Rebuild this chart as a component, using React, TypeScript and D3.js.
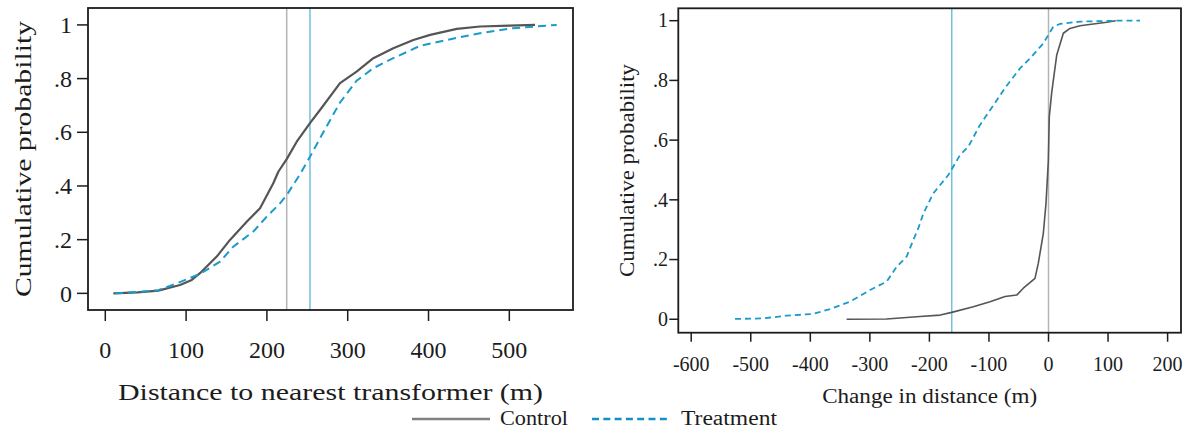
import React from "react";
import * as d3 from "d3";

// Panel A: distance to nearest transformer (m), empirical CDFs
const distControlX = [10, 40, 65.6, 92.5, 107, 117.2, 137.9, 154.3, 175, 191.5, 207.9, 214.1, 224.5, 236.9, 253.3, 265.7, 290.5, 311, 331.7, 356.4, 381.2, 402, 435, 463.7, 500, 531.8];
const distControlY = [0, 0.004, 0.01, 0.031, 0.05, 0.075, 0.137, 0.199, 0.267, 0.317, 0.41, 0.453, 0.5, 0.565, 0.634, 0.683, 0.783, 0.826, 0.876, 0.913, 0.944, 0.963, 0.985, 0.994, 0.997, 1.0];
const distTreatX = [12, 40, 65.6, 88.4, 117, 142, 158.4, 183.2, 199.8, 216.2, 224.5, 241, 253.3, 269.8, 290.5, 311, 331.7, 356.4, 389.5, 422.5, 463.7, 505, 558.6];
const distTreatY = [0, 0.005, 0.012, 0.037, 0.072, 0.118, 0.174, 0.23, 0.286, 0.335, 0.366, 0.444, 0.509, 0.6, 0.711, 0.792, 0.839, 0.876, 0.922, 0.944, 0.969, 0.988, 1.0];
const distMeans = { control: 224.5, treatment: 253.3 };
const distTicksX = [0, 100, 200, 300, 400, 500];

// Panel B: change in distance (m), empirical CDFs
const chgControlX = [-339, -272, -215.8, -182, -162.5, -126.3, -98.2, -73, -53.4, -42.3, -22.7, -17.1, -8.7, -4.2, -0.3, 1.3, 5.4, 13.8, 24.9, 36, 52.9, 97.7, 113];
const chgControlY = [0, 0.001, 0.009, 0.014, 0.023, 0.042, 0.059, 0.076, 0.081, 0.104, 0.137, 0.188, 0.288, 0.388, 0.53, 0.678, 0.76, 0.885, 0.958, 0.974, 0.983, 0.995, 1.0];
const chgTreatX = [-526.4, -479, -439.6, -394.9, -367, -333.4, -299.8, -271.8, -255, -238.2, -227, -218.6, -210, -193.4, -168.3, -148.6, -134.7, -115, -92.7, -73, -47.9, -31, -8.7, 8, 19.3, 52.9, 114.5, 153.6];
const chgTreatY = [0.001, 0.003, 0.012, 0.018, 0.034, 0.059, 0.098, 0.126, 0.176, 0.21, 0.266, 0.305, 0.355, 0.422, 0.483, 0.55, 0.578, 0.651, 0.716, 0.775, 0.84, 0.874, 0.924, 0.98, 0.989, 0.997, 1.0, 1.0];
const chgMeans = { control: 0, treatment: -162.5 };
const chgTicksX = [-600, -500, -400, -300, -200, -100, 0, 100, 200];

const probTicks = [0, 0.2, 0.4, 0.6, 0.8, 1];
const probLabel = (v: number) => (v === 0 ? "0" : v === 1 ? "1" : String(v).replace(/^0/, ""));

const CONTROL = "#555555";
const TREAT = "#1a9bc9";
const FONT = '"Liberation Serif", "DejaVu Serif", "Times New Roman", serif';
const INK = "#1c1c1c";
const textStyle = { fontFamily: FONT };

type PanelProps = {
  frame: { x0: number; x1: number; y0: number; y1: number };
  xDomain: [number, number];
  yDomain: [number, number];
  xTicks: number[];
  ctrl: [number[], number[]];
  trt: [number[], number[]];
  means: { control: number; treatment: number };
  tickFont: number;
  tickLen: number;
  xLabelBase: number;
  yLabelRight: number;
  xTitle: string;
  xTitleY: number;
  xTitleLen: number;
  xTitleFont: number;
  yTitleX: number;
  yTitleLen: number;
  yTitleFont: number;
  lineW: [number, number];
  dash: string;
};

function Panel(p: PanelProps) {
  const { frame } = p;
  const x = d3.scaleLinear().domain(p.xDomain).range([frame.x0, frame.x1]);
  const y = d3.scaleLinear().domain(p.yDomain).range([frame.y1, frame.y0]);
  const line = d3
    .line<[number, number]>()
    .x((d) => x(d[0]))
    .y((d) => y(d[1]))
    .curve(d3.curveLinear);
  const pts = (xs: number[], ys: number[]) => xs.map((v, i) => [v, ys[i]] as [number, number]);
  const yMid = (frame.y0 + frame.y1) / 2;
  return (
    <g>
      <line x1={x(p.means.control)} x2={x(p.means.control)} y1={frame.y0} y2={frame.y1} stroke="#b4b4b4" strokeWidth={1.5} />
      <line x1={x(p.means.treatment)} x2={x(p.means.treatment)} y1={frame.y0} y2={frame.y1} stroke="#72c0dd" strokeWidth={1.5} />
      <path d={line(pts(p.ctrl[0], p.ctrl[1])) || ""} fill="none" stroke={CONTROL} strokeWidth={p.lineW[0]} strokeLinejoin="round" />
      <path d={line(pts(p.trt[0], p.trt[1])) || ""} fill="none" stroke={TREAT} strokeWidth={p.lineW[1]} strokeDasharray={p.dash} />
      <rect x={frame.x0} y={frame.y0} width={frame.x1 - frame.x0} height={frame.y1 - frame.y0} fill="none" stroke={INK} strokeWidth={1.8} />
      {p.xTicks.map((t) => (
        <g key={"x" + t}>
          <line x1={x(t)} x2={x(t)} y1={frame.y1} y2={frame.y1 + p.tickLen} stroke={INK} strokeWidth={1.5} />
          <text x={x(t)} y={p.xLabelBase} textAnchor="middle" fontSize={p.tickFont} style={textStyle} fill={INK}>
            {t}
          </text>
        </g>
      ))}
      {probTicks.map((t) => (
        <g key={"y" + t}>
          <line x1={frame.x0 - p.tickLen} x2={frame.x0} y1={y(t)} y2={y(t)} stroke={INK} strokeWidth={1.5} />
          <text x={p.yLabelRight} y={y(t)} dy="0.34em" textAnchor="end" fontSize={p.tickFont} style={textStyle} fill={INK}>
            {probLabel(t)}
          </text>
        </g>
      ))}
      <text
        x={(frame.x0 + frame.x1) / 2}
        y={p.xTitleY}
        textAnchor="middle"
        fontSize={p.xTitleFont}
        style={textStyle}
        fill={INK}
        textLength={p.xTitleLen}
        lengthAdjust="spacingAndGlyphs"
      >
        {p.xTitle}
      </text>
      <text
        transform={`translate(${p.yTitleX},${yMid}) rotate(-90)`}
        textAnchor="middle"
        fontSize={p.yTitleFont}
        style={textStyle}
        fill={INK}
        textLength={p.yTitleLen}
        lengthAdjust="spacingAndGlyphs"
      >
        Cumulative probability
      </text>
    </g>
  );
}

export default function App() {
  return (
    <svg width={1192} height={433} style={{ position: "absolute", left: 0, top: 0, background: "#fff" }}>
      <rect width={1192} height={433} fill="#fff" />
      <Panel
        frame={{ x0: 88, x1: 573, y0: 8, y1: 310 }}
        xDomain={[-21.4, 578.8]}
        yDomain={[-0.062, 1.063]}
        xTicks={distTicksX}
        ctrl={[distControlX, distControlY]}
        trt={[distTreatX, distTreatY]}
        means={distMeans}
        tickFont={24}
        tickLen={11}
        xLabelBase={358}
        yLabelRight={72}
        xTitle="Distance to nearest transformer (m)"
        xTitleY={400}
        xTitleLen={425}
        xTitleFont={24}
        yTitleX={30.5}
        yTitleLen={276}
        yTitleFont={24}
        lineW={[2.2, 2]}
        dash="8,5"
      />
      <Panel
        frame={{ x0: 678.3, x1: 1181, y0: 8.3, y1: 332.7 }}
        xDomain={[-621.7, 222.5]}
        yDomain={[-0.045, 1.0415]}
        xTicks={chgTicksX}
        ctrl={[chgControlX, chgControlY]}
        trt={[chgTreatX, chgTreatY]}
        means={chgMeans}
        tickFont={20}
        tickLen={9}
        xLabelBase={371}
        yLabelRight={668}
        xTitle="Change in distance (m)"
        xTitleY={403}
        xTitleLen={215}
        xTitleFont={20}
        yTitleX={634}
        yTitleLen={213}
        yTitleFont={20}
        lineW={[1.6, 1.8]}
        dash="6,4"
      />
      {/* Shared legend */}
      <g>
        <line x1={412} x2={490} y1={419} y2={419} stroke="#808080" strokeWidth={2.4} />
        <text x={500} y={425} fontSize={20} style={textStyle} fill={INK} textLength={68} lengthAdjust="spacingAndGlyphs">
          Control
        </text>
        <line x1={592} x2={670} y1={419} y2={419} stroke="#1390c8" strokeWidth={2.4} strokeDasharray="7,4.3" />
        <text x={681} y={425} fontSize={20} style={textStyle} fill={INK} textLength={96} lengthAdjust="spacingAndGlyphs">
          Treatment
        </text>
      </g>
    </svg>
  );
}
